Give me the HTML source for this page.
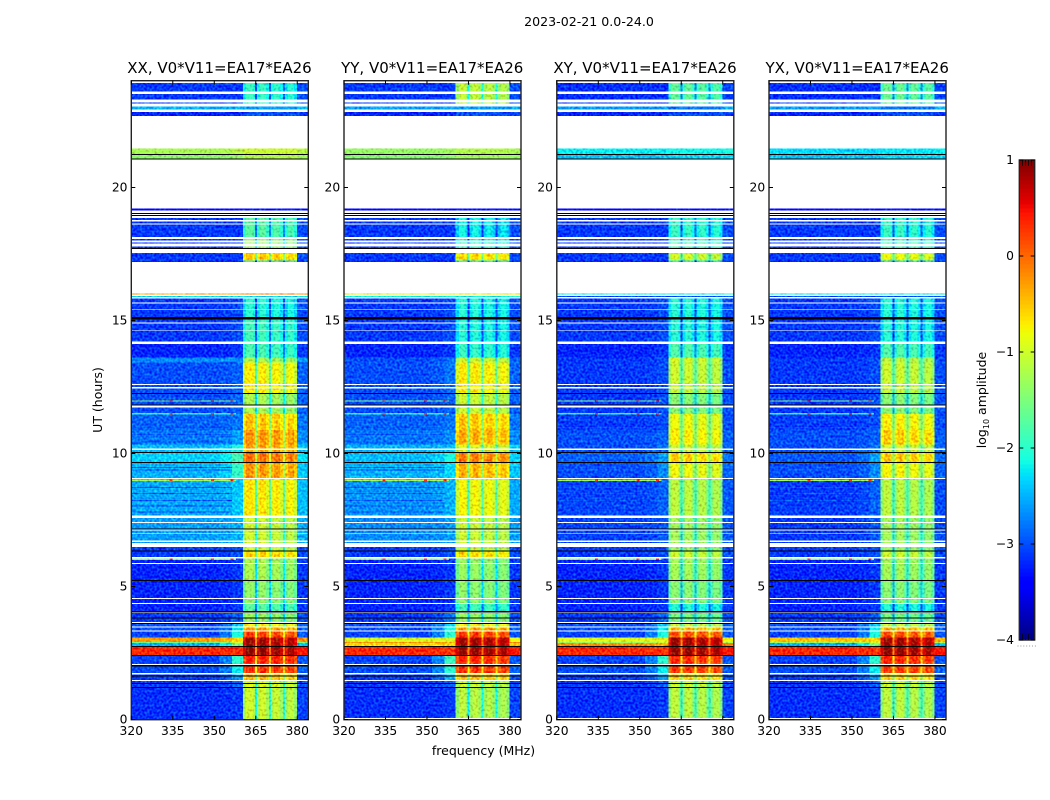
<!DOCTYPE html>
<html lang="en">
<head>
<meta charset="utf-8">
<title>2023-02-21 0.0-24.0</title>
<style>
html,body{margin:0;padding:0;background:#fff;}
svg{display:block;}
text{font-family:"DejaVu Sans","Liberation Sans",sans-serif;fill:#000;}
</style>
</head>
<body>
<svg id="chart" xmlns="http://www.w3.org/2000/svg" width="1050" height="800" viewBox="0 0 1050 800">
<defs>
<filter id="speckle" x="0" y="0" width="100%" height="100%" color-interpolation-filters="sRGB">
<feTurbulence type="fractalNoise" baseFrequency="0.42" numOctaves="1" seed="7" result="n"/>
<feColorMatrix in="n" type="matrix" values="0.3 0 0 0 0.35 1 0 0 0 0 0.3 0 0 0 0.35 0 0 0 0 1" result="g"/>
<feComposite in="SourceGraphic" in2="g" operator="arithmetic" k1="0" k2="1" k3="0.9" k4="-0.45"/>
</filter>
</defs>
<text x="589" y="26" text-anchor="middle" font-size="12.6">2023-02-21 0.0-24.0</text>
<text transform="translate(102,400) rotate(-90)" text-anchor="middle" font-size="12.5">UT (hours)</text>
<text x="483.5" y="755" text-anchor="middle" font-size="12.5">frequency (MHz)</text>
<text transform="translate(986,400) rotate(-90)" text-anchor="middle" font-size="12.5">log<tspan font-size="8" dy="3">10</tspan><tspan dy="-3"> amplitude</tspan></text>
</svg>
<script>
// ---- data: axis ticks and labels ----
const panelTitles = ["XX, V0*V11=EA17*EA26", "YY, V0*V11=EA17*EA26", "XY, V0*V11=EA17*EA26", "YX, V0*V11=EA17*EA26"];
const freqTicks = [320, 335, 350, 365, 380];
const utTicks = [0, 5, 10, 15, 20];
const colorbarTicks = [1, 0, -1, -2, -3, -4];

// ---- data: frequency channels (MHz) ----
const freqEdges = [320,340,352,356.5,360.5,361.6,364.1,364.8,365.5,366.6,368.8,369.9,370.6,371.7,373.8,374.9,375.7,376.7,378.9,380,384];
const channelRole = ["base","base","mid","shoulder","band","band","band","band","band","band","band","band","band","band","band","band","band","band","band","tail"];
const channelOffset = [0,0,0,0,-0.3,0,-0.2,-1.1,-0.25,0,-0.25,-1.0,-0.25,-0.05,-0.3,-1.0,-0.35,-0.1,-0.35,0.1];

// ---- data: UT ranges of the heatmap rows (hours) ----
const rowTopUT = [24,23.05,22.93,21.46,21.26,19.21,18.86,18.14,17.54,17.26,16.02,15.93,15.82,15.03,14.12,13.60,13.42,12.62,12.25,11.49,10.89,10.33,10.02,9.64,9.07,7.66,6.48,6.35,6.06,5.21,4.35,4.07,3.59,3.49,3.34,3.09,2.92,2.87,2.74,2.43,2.13,1.74,1.49,1.23];
const rowBottomUT = [23.05,22.93,22.69,21.26,21.05,19.04,18.14,17.54,17.26,17.19,15.97,15.88,15.03,14.12,13.60,13.42,12.62,12.25,11.49,10.89,10.33,10.02,9.64,9.07,7.66,6.48,6.35,6.06,5.21,4.35,4.07,3.59,3.49,3.34,3.09,2.92,2.87,2.74,2.43,2.13,1.74,1.49,1.23,0];

// ---- data: log10 amplitude per row, [off-band, shoulder, in-band] ----
const levelsXX = [[-3.1,-3.1,-1.9],[-2.5,-2.5,-2.6],[-3.2,-3.2,-3.0],[-1.25,-1.15,-1.05],[-1.4,-1.35,-1.2],[-3.4,-3.4,-3.3],[-3.1,-3.1,-1.7],[-3.1,-3.1,-1.3],[-3.1,-3.1,-0.45],[-3.2,-3.2,-2.0],[-0.35,-0.35,-0.2],[-2.3,-2.3,-2.3],[-3.1,-3.0,-2.0],[-3.1,-3.0,-1.85],[-3.2,-3.1,-1.8],[-2.7,-2.7,-1.2],[-3.0,-2.9,-0.7],[-3.0,-2.9,-0.7],[-3.0,-2.9,-1.2],[-2.9,-2.8,-0.45],[-2.8,-2.6,-0.2],[-2.45,-2.1,-0.25],[-2.35,-1.85,0.02],[-2.5,-1.95,-0.2],[-2.55,-2.4,-0.65],[-2.6,-2.5,-1.0],[-3.1,-3.0,-1.0],[-3.1,-3.0,-0.5],[-3.2,-3.1,-1.2],[-3.2,-3.1,-1.35],[-3.2,-3.1,-1.7],[-3.1,-2.9,-1.3],[-3.0,-2.4,-0.7],[-3.0,-2.2,-0.2],[-3.05,-2.1,0.25],[-0.3,-0.6,0.9],[-1.6,-1.0,0.9],[-2.5,-1.5,0.9],[0.35,0.3,0.95],[-3.05,-2.0,0.45],[-3.0,-2.2,0.35],[-3.1,-2.6,-0.4],[-3.1,-2.9,-0.9],[-3.15,-3.1,-1.0]];
const levelsYY = [[-3.1,-3.1,-1.05],[-2.6,-2.6,-2.6],[-3.2,-3.2,-3.0],[-1.35,-1.3,-1.2],[-1.45,-1.4,-1.3],[-3.4,-3.4,-3.3],[-3.1,-3.1,-2.1],[-3.1,-3.1,-1.9],[-3.1,-3.1,-0.55],[-3.2,-3.2,-2.0],[-0.9,-0.9,-0.8],[-2.2,-2.2,-2.2],[-3.1,-3.0,-2.0],[-3.1,-3.0,-2.0],[-3.2,-3.1,-1.9],[-3.0,-2.8,-1.0],[-3.0,-2.8,-0.65],[-3.0,-2.85,-0.7],[-3.0,-2.9,-1.0],[-2.9,-2.8,-0.45],[-2.8,-2.7,-0.3],[-2.5,-2.4,-0.85],[-2.45,-2.1,-0.05],[-2.5,-2.3,-0.35],[-2.65,-2.5,-0.75],[-2.7,-2.6,-1.0],[-3.1,-3.0,-1.0],[-3.1,-3.0,-0.55],[-3.2,-3.1,-1.3],[-3.2,-3.1,-1.35],[-3.2,-3.1,-1.8],[-3.1,-2.8,-1.3],[-3.0,-2.3,-0.7],[-3.0,-2.1,-0.2],[-3.05,-2.0,0.3],[-0.95,-0.95,0.9],[-0.25,-0.4,0.9],[-0.6,-0.6,0.9],[0.35,0.3,0.95],[-3.05,-1.9,0.4],[-3.0,-2.0,0.35],[-3.1,-2.5,-0.4],[-3.1,-2.9,-1.0],[-3.15,-3.1,-1.1]];
const levelsXY = [[-3.15,-3.15,-1.65],[-2.6,-2.6,-2.8],[-3.2,-3.2,-3.0],[-2.2,-2.2,-2.15],[-2.4,-2.4,-2.3],[-3.4,-3.4,-3.3],[-3.1,-3.1,-1.9],[-3.1,-3.1,-1.8],[-3.1,-3.1,-0.95],[-3.2,-3.2,-2.1],[-2.2,-2.2,-2.2],[-3.0,-3.0,-3.0],[-3.1,-3.0,-2.0],[-3.1,-3.0,-2.0],[-3.2,-3.1,-1.75],[-3.1,-3.0,-0.95],[-3.1,-3.0,-1.0],[-3.1,-3.0,-1.05],[-3.1,-3.0,-1.4],[-3.1,-3.0,-0.8],[-3.0,-2.9,-0.7],[-3.0,-2.8,-1.0],[-2.9,-2.6,-0.5],[-3.0,-2.7,-0.8],[-3.05,-2.9,-1.1],[-3.05,-2.95,-1.25],[-3.1,-3.0,-1.3],[-3.1,-3.0,-1.0],[-3.2,-3.1,-1.25],[-3.2,-3.1,-1.4],[-3.2,-3.1,-2.0],[-3.1,-2.9,-1.5],[-3.0,-2.4,-1.0],[-3.0,-2.2,-0.3],[-3.05,-2.1,0.2],[-0.9,-0.9,0.9],[-1.3,-1.0,0.9],[-0.2,-0.4,0.9],[0.35,0.3,0.95],[-3.05,-2.0,0.4],[-3.0,-2.2,0.3],[-3.1,-2.6,-0.5],[-3.1,-2.9,-1.0],[-3.15,-3.1,-1.1]];
const levelsYX = [[-3.15,-3.15,-1.6],[-2.6,-2.6,-2.8],[-3.2,-3.2,-3.0],[-2.3,-2.3,-2.25],[-2.4,-2.4,-2.3],[-3.4,-3.4,-3.3],[-3.1,-3.1,-1.9],[-3.1,-3.1,-1.8],[-3.1,-3.1,-0.8],[-3.2,-3.2,-2.1],[-2.2,-2.2,-2.2],[-3.0,-3.0,-3.0],[-3.1,-3.0,-2.0],[-3.1,-3.0,-2.0],[-3.2,-3.1,-1.75],[-3.1,-3.0,-1.1],[-3.1,-3.0,-1.0],[-3.1,-3.0,-1.05],[-3.1,-3.0,-1.4],[-3.1,-3.0,-0.7],[-3.0,-2.9,-0.5],[-3.0,-2.8,-0.95],[-2.95,-2.6,-0.45],[-3.0,-2.7,-0.75],[-3.1,-2.9,-1.1],[-3.1,-2.95,-1.25],[-3.1,-3.0,-1.3],[-3.1,-3.0,-1.0],[-3.2,-3.1,-1.25],[-3.2,-3.1,-1.4],[-3.2,-3.1,-2.0],[-3.1,-2.9,-1.5],[-3.0,-2.4,-1.0],[-3.0,-2.2,-0.3],[-3.05,-2.1,0.2],[-0.5,-0.6,0.9],[-1.3,-1.0,0.9],[-2.5,-1.5,0.9],[0.35,0.3,0.95],[-3.05,-2.0,0.4],[-3.0,-2.2,0.3],[-3.1,-2.6,-0.5],[-3.1,-2.9,-1.0],[-3.15,-3.1,-1.1]];

// ---- data: narrow dips, interference lines and spots ----
const dipLinesUT = [11.27,11.0,10.74,10.45,9.5,9.39,8.75,8.52,8.26,8.04,7.82];
const rfiLinesUT = [12.0,11.52,9.02,6.045];
const rfiLineLevels = [-1.5,-2.0,-1.3,-1.3];
const rfiSpotsMHz = [334,349,356];

// ---- data: flagged time ranges, [start, end] in UT hours ----
const flaggedStartUT = [24,23.60,23.31,23.16,22.93,22.69,21.05,19.14,19.01,18.92,18.77,18.64,18.14,18.01,17.89,17.69,17.19,15.97,15.88,15.67,15.44,14.92,14.65,14.21,12.62,12.50,11.81,10.18,9.07,7.66,7.43,7.14,7.00,6.72,6.63,6.10,5.89,4.57,4.38,4.02,3.66,3.49,3.34,2.09,1.74,1.49];
const flaggedEndUT = [23.92,23.52,23.19,23.05,22.83,21.46,19.21,19.04,18.97,18.86,18.72,18.60,18.07,17.94,17.79,17.54,16.02,15.93,15.82,15.63,15.41,14.88,14.62,14.12,12.57,12.45,11.72,10.13,9.04,7.57,7.39,7.10,6.97,6.67,6.48,6.06,5.85,4.53,4.35,4.00,3.63,3.45,3.30,2.04,1.70,1.45];
const blackStartUT = [21.26,21.09,19.04,18.97,17.73,15.13,12.27,11.84,10.05,9.68,7.18,6.35,5.25,4.07,3.83,3.63,2.77,2.43,2.04,1.65,1.38,1.23];
const blackEndUT = [21.23,21.05,19.01,18.92,17.69,15.03,12.25,11.81,10.02,9.64,7.14,6.31,5.21,4.02,3.79,3.59,2.74,2.38,2.00,1.61,1.35,1.20];
const lastFlagEndUT = [0, 0.06, 0.06, 0.06];

const panelLevels = [levelsXX, levelsYY, levelsXY, levelsYX];
const panelSlugs = ["xx", "yy", "xy", "yx"];

// ---- layout ----
const panelLefts = [131, 343.7, 556.5, 768.7];
const panelWidth = 177;
const plotBottom = 719.5;
const pxPerHour = 26.6;
const frameTop = 80.7;
const frameBottom = 719.7;
const cbarLeft = 1019.3, cbarRight = 1034.7, cbarTop = 160, cbarBottom = 640;
const NS = "http://www.w3.org/2000/svg";
const svg = document.getElementById("chart");

function xScale(mhz, left) { return left + (mhz - 320) / 64 * panelWidth; }
function yScale(ut) { return plotBottom - ut * pxPerHour; }
function cbarScale(v) { return cbarBottom - (v + 4) / 5 * (cbarBottom - cbarTop); }

function lerpTable(table, t) {
  for (let i = 1; i < table.length; i++) {
    if (t <= table[i][0]) {
      const a = table[i - 1], b = table[i];
      return a[1] + (b[1] - a[1]) * (t - a[0]) / (b[0] - a[0]);
    }
  }
  return table[table.length - 1][1];
}
const jetR = [[0,0],[0.35,0],[0.66,1],[0.89,1],[1,0.5]];
const jetG = [[0,0],[0.125,0],[0.375,1],[0.64,1],[0.91,0],[1,0]];
const jetB = [[0,0.5],[0.11,1],[0.34,1],[0.65,0],[1,0]];
function jet(level) {
  const t = Math.max(0, Math.min(1, (level + 4) / 5));
  const c = tbl => Math.round(255 * lerpTable(tbl, t));
  return "rgb(" + c(jetR) + "," + c(jetG) + "," + c(jetB) + ")";
}
function make(tag, attrs, parent) {
  const el = document.createElementNS(NS, tag);
  for (const k in attrs) el.setAttribute(k, attrs[k]);
  parent.appendChild(el);
  return el;
}
function channelLevel(row, ch) {
  const role = channelRole[ch], off = channelOffset[ch];
  if (role === "base") return row[0] + off;
  if (role === "mid") return row[0] * 0.7 + row[1] * 0.3;
  if (role === "shoulder") return row[1];
  if (role === "tail") return row[0] + off;
  if (row[2] - row[0] < 0.5) return row[2];
  return row[2] + off;
}

panelLefts.forEach(function (left, p) {
  const slug = panelSlugs[p];
  const levels = panelLevels[p];
  const panel = make("g", {}, svg);
  
  

  const heat = make("g", { filter: "url(#speckle)", "shape-rendering": "crispEdges" }, panel);
  
  

  rowTopUT.forEach(function (top, r) {
    const y0 = yScale(top), y1 = yScale(rowBottomUT[r]);
    channelRole.forEach(function (role, c) {
      const x0 = xScale(freqEdges[c], left), x1 = xScale(freqEdges[c + 1], left);
      const cell = make("rect", { x: x0, y: y0, width: x1 - x0 + 0.4, height: y1 - y0 + 0.4, fill: jet(channelLevel(levels[r], c)) }, heat);
      
      
    });
  });

  dipLinesUT.forEach(function (ut) {
    const dip = make("rect", { x: xScale(320, left), y: yScale(ut), width: xScale(356.5, left) - xScale(320, left), height: 1, fill: jet(-2.95) }, heat);
    
    
  });

  rfiLinesUT.forEach(function (ut, i) {
    const line = make("rect", { x: xScale(320, left), y: yScale(ut), width: xScale(358, left) - xScale(320, left), height: 1.2, fill: jet(rfiLineLevels[i]) }, heat);
    
    
    rfiSpotsMHz.forEach(function (mhz) {
      const spot = make("rect", { x: xScale(mhz, left), y: yScale(ut), width: 3, height: 1.2, fill: jet(0.3) }, heat);
      
      
    });
  });

  const masks = make("g", { "shape-rendering": "crispEdges" }, panel);
  
  
  flaggedStartUT.forEach(function (start, i) {
    const m = make("rect", { x: left, y: yScale(start), width: panelWidth, height: yScale(flaggedEndUT[i]) - yScale(start), fill: "#fff" }, masks);
    
    
  });
  const lastFlag = make("rect", { x: left, y: yScale(lastFlagEndUT[p]), width: panelWidth, height: yScale(0) - yScale(lastFlagEndUT[p]), fill: "#fff" }, masks);
  
  
  blackStartUT.forEach(function (start, i) {
    const m = make("rect", { x: left, y: yScale(start), width: panelWidth, height: Math.max(1, yScale(blackEndUT[i]) - yScale(start)), fill: "#000" }, masks);
    
    
  });

  const frame = make("rect", { x: left + 0.3, y: frameTop, width: panelWidth, height: frameBottom - frameTop, fill: "none", stroke: "#222", "stroke-width": 1.4 }, panel);
  
  

  const title = make("text", { x: left + panelWidth / 2, y: 73, "text-anchor": "middle", "font-size": 15 }, panel);
  
  
  title.textContent = panelTitles[p];

  freqTicks.forEach(function (mhz) {
    const x = xScale(mhz, left) + 0.3;
    const t1 = make("line", { x1: x, x2: x, y1: frameBottom, y2: frameBottom - 4, stroke: "#000" }, panel);
    
    
    const t2 = make("line", { x1: x, x2: x, y1: frameTop, y2: frameTop + 4, stroke: "#000" }, panel);
    
    
    const lbl = make("text", { x: x, y: 735, "text-anchor": "middle", "font-size": 12.3 }, panel);
    
    
    lbl.textContent = String(mhz);
  });

  utTicks.forEach(function (ut) {
    const y = yScale(ut);
    const t1 = make("line", { x1: left + 0.3, x2: left + 4.3, y1: y, y2: y, stroke: "#000" }, panel);
    
    
    const t2 = make("line", { x1: left + panelWidth + 0.3, x2: left + panelWidth - 3.7, y1: y, y2: y, stroke: "#000" }, panel);
    
    
    const lbl = make("text", { x: left - 3.5, y: y + 3.9, "text-anchor": "end", "font-size": 12.3 }, panel);
    
    
    lbl.textContent = String(ut);
  });
});

// ---- colorbar ----
const cbar = make("g", {}, svg);


const cbarSteps = 120;
for (let i = 0; i < cbarSteps; i++) {
  const v0 = -4 + 5 * i / cbarSteps, v1 = -4 + 5 * (i + 1) / cbarSteps;
  const seg = make("rect", { x: cbarLeft, y: cbarScale(v1), width: cbarRight - cbarLeft, height: cbarScale(v0) - cbarScale(v1) + 0.4, fill: jet((v0 + v1) / 2), "shape-rendering": "crispEdges" }, cbar);
  
  
}
const cbarFrame = make("rect", { x: cbarLeft, y: cbarTop, width: cbarRight - cbarLeft, height: cbarBottom - cbarTop, fill: "none", stroke: "#222", "stroke-width": 1.4 }, cbar);


colorbarTicks.forEach(function (v) {
  const y = cbarScale(v);
  const t1 = make("line", { x1: cbarLeft, x2: cbarLeft + 4, y1: y, y2: y, stroke: "#000" }, cbar);
  
  
  const t2 = make("line", { x1: cbarRight, x2: cbarRight - 4, y1: y, y2: y, stroke: "#000" }, cbar);
  
  
  const lbl = make("text", { x: 1014, y: y + 4.2, "text-anchor": "end", "font-size": 12.3 }, cbar);
  
  
  lbl.textContent = v < 0 ? "\u2212" + Math.abs(v) : String(v);
});
for (let i = 1; i <= 4; i++) {
  const x = cbarLeft + i * (cbarRight - cbarLeft) / 5;
  const minorTop = make("line", { x1: x, x2: x, y1: cbarTop, y2: cbarTop + 6, stroke: "#000", "stroke-width": 0.7 }, cbar);
  
  
  const minorBottom = make("line", { x1: x, x2: x, y1: cbarBottom, y2: cbarBottom - 6, stroke: "#000", "stroke-width": 0.7 }, cbar);
  
  
}
for (let i = 0; i < 7; i++) {
  const dot = make("rect", { x: 1017.5 + i * 2.9, y: 645.5, width: 1, height: 1, fill: "#999" }, cbar);
  
  
}
</script>
</body>
</html>
